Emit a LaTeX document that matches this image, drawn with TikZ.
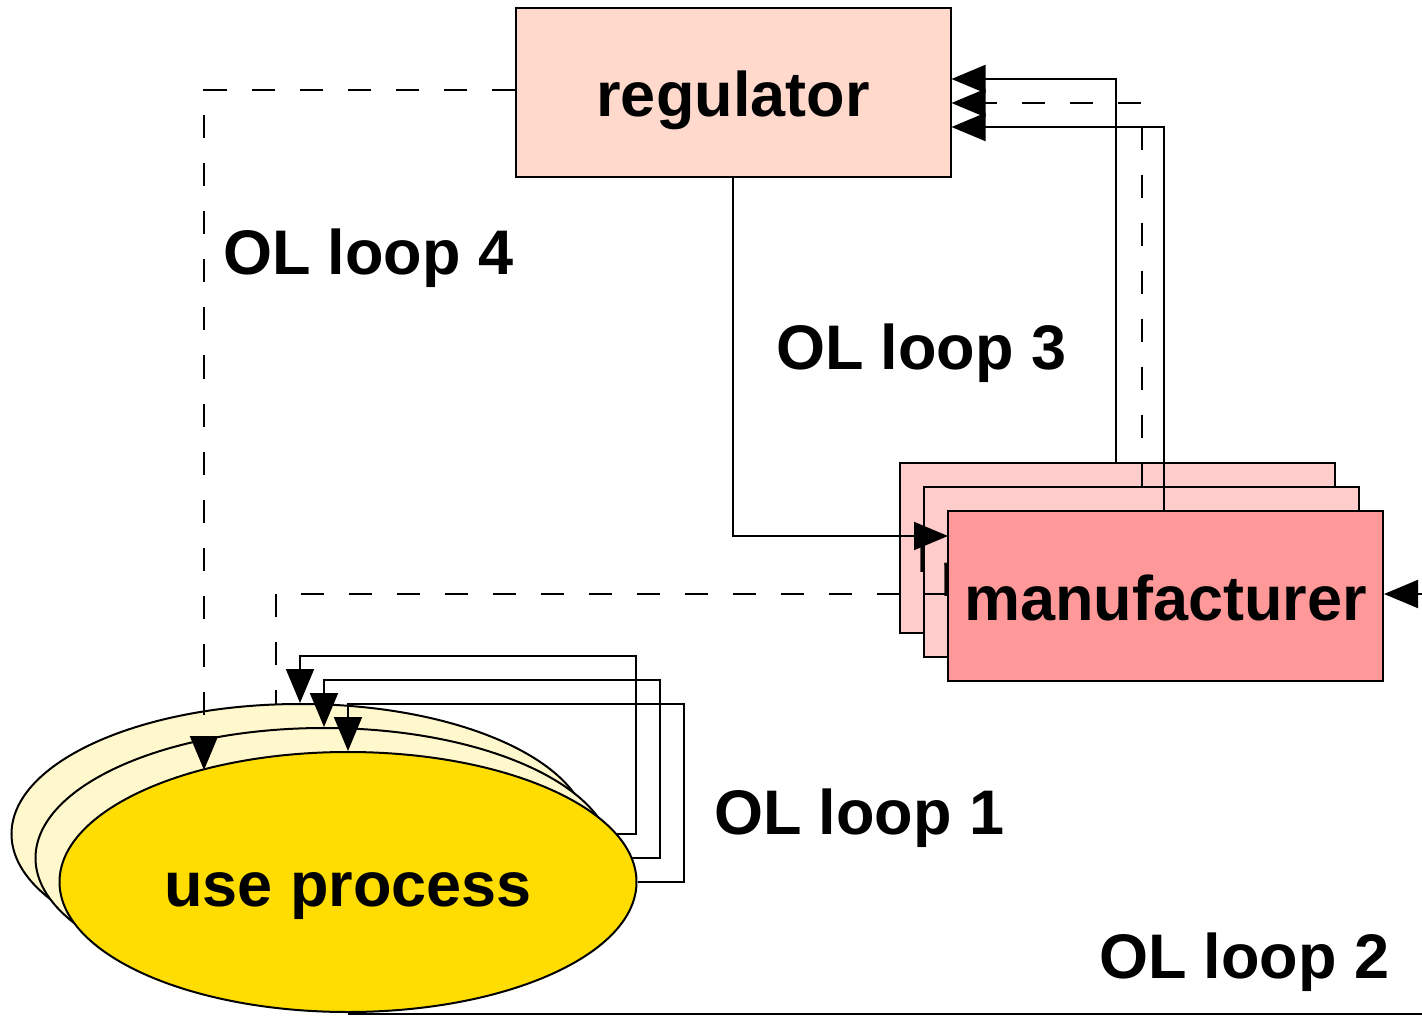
\documentclass[tikz,border=0pt]{standalone}
\usepackage{fontspec}
\setmainfont{Liberation Sans}
\usetikzlibrary{arrows.meta,shapes.geometric}
\definecolor{regfill}{HTML}{FFDACC}
\definecolor{manback}{HTML}{FFCCCC}
\definecolor{manfront}{HTML}{FF9999}
\definecolor{useback}{HTML}{FFF8CC}
\definecolor{usefront}{HTML}{FFDD00}
\begin{document}
\begin{tikzpicture}[x=1pt,y=-1pt,line width=2pt,
  tip/.style={-{Triangle[length=34pt,width=28pt]}},
  dsh/.style={dash pattern=on 23pt off 25pt},
  lbl/.style={font=\fontsize{63}{63}\selectfont\bfseries, inner sep=0pt, anchor=base west},
  txt/.style={font=\fontsize{63}{63}\selectfont\bfseries, text height=48pt, text depth=0pt, inner sep=0pt},
  rbox/.style={txt, draw, minimum width=435pt, minimum height=169pt},
  ell/.style={txt, draw, ellipse, minimum width=577pt, minimum height=260pt}
]
\useasboundingbox (0,0) rectangle (1422,1016);
\clip (0,0) rectangle (1422,1016);

% regulator
\node[rbox, fill=regfill] (reg) at (733,92.5) {regulator};

% manufacturer stack
\node[rbox, fill=manback, minimum height=170pt] (mB) at (1117.5,548) {manufacturer};
\node[rbox, fill=manback, minimum height=170pt] (mM) at (1141.5,572) {manufacturer};

\coordinate (mFw) at (948,536);
\coordinate (mFd) at (948,594);
\draw[tip] (reg.south) |- (mFw);
\coordinate (e2) at (276,755);
\draw[dsh, tip] (mFd) -| (e2);

\node[rbox, fill=manfront, minimum height=170pt] (mF) at (1165.5,596) {manufacturer};

% manufacturer -> regulator (OL loop 3)
\coordinate (t1) at (0,79);
\coordinate (t2) at (0,103);
\coordinate (t3) at (0,127);
\draw[tip] ([xshift=-1.5pt]mB.north) |- (reg.east |- t1);
\draw[tip, dsh] (mM.north) |- (reg.east |- t2);
\draw[tip] ([xshift=-1.5pt]mF.north) |- (reg.east |- t3);

% use process stack with OL loop 1
\node[ell, fill=useback] (uB) at (300,834) {};
\draw[tip] (uB.east) -- (636,834) |- (300,656) -- (uB.north);
\node[ell, fill=useback] (uM) at (324,858) {};
\draw[tip] (uM.east) -- (660,858) |- (324,680) -- (uM.north);
\node[ell, fill=usefront] (uF) at (348,882) {use process};
\draw[tip] (uF.east) -- (684,882) |- (348,704) -- (uF.north);

% OL loop 4 (dashed, regulator -> use process)
\coordinate (e4) at (204,770);
\draw[dsh, tip] ([yshift=2.5pt]reg.west) -| (e4);

% OL loop 2 (use process -> manufacturer)
\draw[tip] ([yshift=-1pt]uF.south) -- ++(1130,0) |- ([yshift=2pt]mF.east);

% labels
\node[lbl] (l4) at (222,275) {OL loop 4};
\node[lbl] (l3) at (775,370) {OL loop 3};
\node[lbl] (l1) at (713,834) {OL loop 1};
\node[lbl] (l2) at (1098,978) {OL loop 2};
\end{tikzpicture}
\end{document}
